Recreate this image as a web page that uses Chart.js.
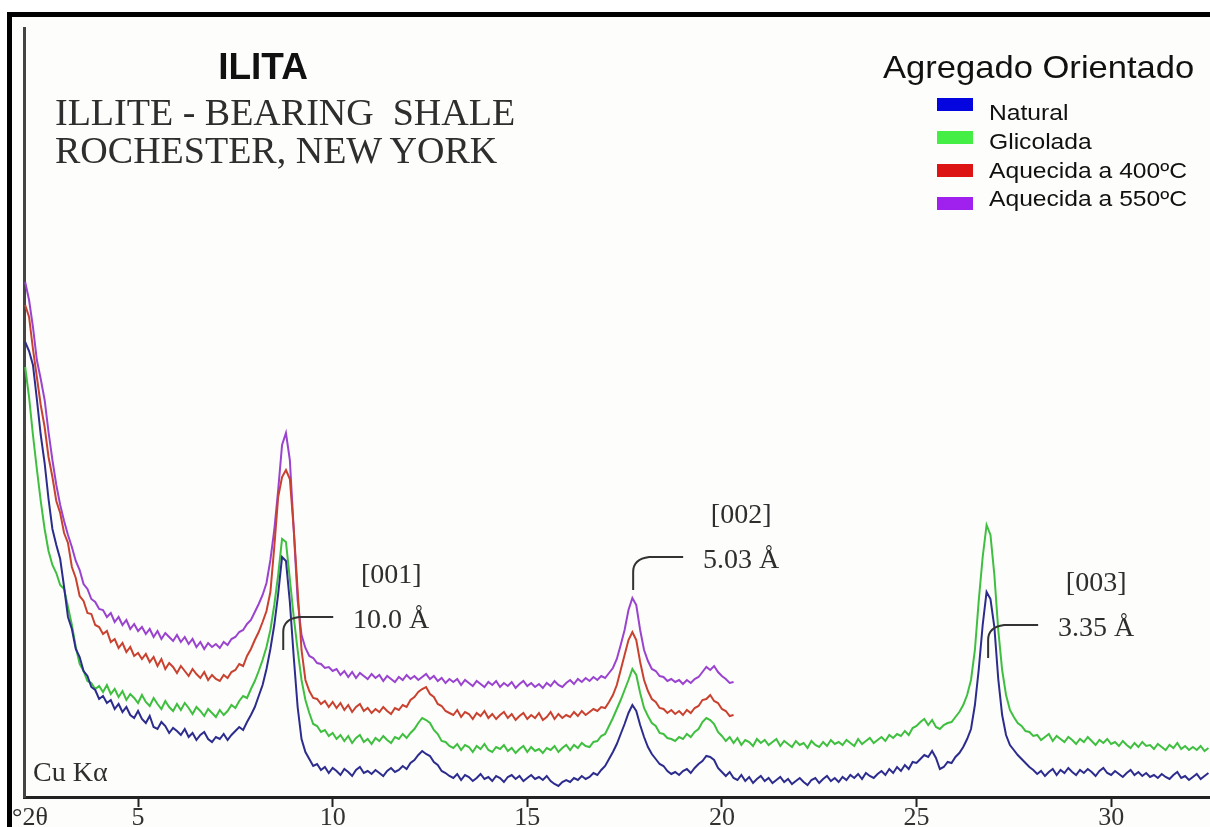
<!DOCTYPE html>
<html>
<head>
<meta charset="utf-8">
<title>ILITA - difratograma</title>
<script src="https://cdn.jsdelivr.net/npm/chart.js@4.4.1/dist/chart.umd.min.js"></script>
<style>
    html, body { margin: 0; padding: 0; background: #fff; }
    #sheet { position: relative; width: 1210px; height: 827px; overflow: hidden; }
    #frame {
        position: absolute; left: 7px; top: 12px; right: 0; bottom: 0;
        border-left: 5px solid #000; border-top: 5px solid #000;
        background: #fdfdfb;
    }
    #xrd { position: absolute; left: 0; top: 0; }
    .txt { position: absolute; white-space: nowrap; line-height: 1; }
    .serif { font-family: "Liberation Serif", "Times New Roman", serif; color: #2e2e2e; }
    .sans { font-family: "Liberation Sans", Arial, sans-serif; color: #111; }
    .swatch { position: absolute; left: 937px; width: 36px; height: 13px; }
</style>
</head>
<body>
<div id="sheet">
    <div id="frame"></div>
    <canvas id="xrd" width="1210" height="827"></canvas>

    <div class="txt sans" style="left:263px; top:48px; font-size:37px; font-weight:bold; transform:translateX(-50%);">ILITA</div>
    <div class="txt serif" style="left:55px; top:93px; font-size:38px;">ILLITE - BEARING&nbsp; SHALE</div>
    <div class="txt serif" style="left:55px; top:131px; font-size:38px;">ROCHESTER, NEW YORK</div>
    <div class="txt serif" style="left:33px; top:758px; font-size:28px;">Cu Kα</div>
    <div class="txt serif" style="left:12px; top:804px; font-size:26px;">°2θ</div>

    <div class="txt sans" style="left:883px; top:51px; font-size:32px; transform:scaleX(1.08); transform-origin:left;">Agregado Orientado</div>
    <div id="legend"></div>
</div>

<script>
// scan grid (°2θ)
const thetaStart = 2.1;
const thetaStep = 0.1;

// intensities, one row per degree (2.1–3.0, 3.1–4.0, ...)
const natural = [
    455, 446, 432, 398, 362, 334, 298, 268, 252, 238,
    210, 180, 168, 148, 140, 126, 121, 110, 107, 98,
    101, 94, 97, 88, 93, 85, 90, 82, 79, 86,
    78, 74, 81, 70, 68, 75, 71, 64, 69, 66,
    62, 68, 60, 64, 57, 62, 65, 58, 55, 60,
    58, 63, 57, 62, 66, 70, 67, 75, 82, 90,
    101, 112, 128, 148, 172, 203, 240, 236, 195, 140,
    90, 58, 45, 38, 31, 33, 27, 30, 24, 29,
    26, 22, 28, 25, 21, 27, 30, 24, 26, 23,
    27, 24, 21, 26, 29, 25, 27, 31, 28, 34,
    37, 42, 46, 43, 41, 35, 32, 26, 24, 21,
    19, 23, 17, 22, 20, 16, 19, 23, 18, 20,
    16, 21, 19, 15, 20, 22, 18, 21, 16, 19,
    22, 18, 20, 17, 21, 16, 13, 11, 15, 17,
    15, 19, 17, 21, 18, 20, 24, 22, 27, 31,
    38, 45, 53, 63, 73, 84, 92, 86, 72, 60,
    50, 43, 38, 33, 31, 26, 23, 25, 22, 26,
    28, 24, 29, 33, 36, 41, 40, 37, 29, 25,
    21, 25, 19, 17, 22, 16, 20, 14, 18, 21,
    16, 19, 14, 17, 20, 15, 18, 13, 16, 19,
    15, 12, 17, 19, 14, 18, 21, 16, 19, 15,
    20, 17, 22, 19, 23, 18, 24, 21, 19, 23,
    26, 22, 28, 24, 30, 26, 32, 28, 35, 34,
    38, 42, 40, 46, 39, 28, 30, 35, 34, 40,
    44, 50, 58, 68, 92, 128, 172, 205, 198, 170,
    118, 82, 62, 52, 47, 42, 38, 34, 30, 27,
    23, 26, 21, 25, 28, 22, 27, 24, 29, 25,
    22, 27, 24, 28, 25, 21, 26, 29, 24, 22,
    26, 23, 20, 24, 27, 22, 25, 21, 24, 20,
    22, 19, 23, 20, 18, 22, 25, 19, 21, 17,
    20, 23, 18, 21, 24
];

const glicolada = [
    430, 400, 362, 328, 296, 268, 246, 232, 224, 212,
    208, 190, 172, 150, 133, 126, 116, 114, 108, 111,
    105, 112, 103, 108, 100, 106, 97, 103, 99, 94,
    102, 95, 91, 99, 93, 88, 96, 90, 86, 93,
    87, 94, 89, 83, 90, 86, 81, 88, 84, 80,
    87, 82, 86, 92, 89, 96, 101, 99, 108, 116,
    126, 137, 150, 167, 192, 222, 258, 255, 218, 180,
    147, 117, 97, 84, 73, 71, 65, 67, 61, 64,
    58, 62, 56, 61, 54, 59, 62, 55, 58, 53,
    59, 56, 61, 57, 54, 60, 58, 63, 59, 64,
    68, 74, 79, 77, 74, 67, 63, 56, 55, 51,
    49, 53, 47, 52, 50, 45, 51, 48, 53, 47,
    45, 50, 48, 52, 46, 49, 44, 48, 51, 45,
    50, 46, 48, 44, 49, 47, 51, 45, 49, 52,
    47, 52, 49, 54, 51, 50, 55, 56, 61, 63,
    71, 79, 88, 97, 107, 117, 128, 122, 104, 89,
    81, 74, 71, 64, 63, 59, 58, 56, 60, 58,
    63, 60, 65, 68, 75, 79, 77, 73, 65, 61,
    56, 60, 54, 59, 52, 57, 55, 51, 58, 54,
    57, 52, 55, 58, 51, 56, 53, 50, 56, 52,
    54, 49, 56, 52, 50, 55, 51, 57, 53, 55,
    52, 57, 54, 51, 58, 53, 56, 59, 54, 57,
    60, 56, 62, 59, 63, 61, 66, 62, 69, 71,
    75, 78, 72, 77, 70, 68, 72, 74, 75, 80,
    85, 92, 102, 117, 147, 197, 240, 272, 262, 222,
    167, 127, 102, 87, 80, 74, 71, 66, 65, 61,
    62, 57, 60, 63, 56, 61, 58, 55, 60, 57,
    53, 58, 55, 60, 56, 52, 57, 54, 58, 53,
    55, 51, 56, 52, 49, 54, 50, 55, 51, 52,
    48, 53, 50, 47, 52, 49, 54, 48, 51, 47,
    50, 47, 51, 46, 49
];

// heated runs stop at 20.3°
const aquecida400 = [
    492, 480, 448, 420, 392, 370, 340, 320, 296, 284,
    264, 254, 230, 219, 201, 196, 184, 183, 172, 170,
    163, 166, 155, 158, 149, 154, 145, 150, 141, 144,
    138, 143, 135, 140, 131, 138, 128, 134, 130, 124,
    131, 126, 121, 128, 123, 119, 125, 117, 122, 118,
    116, 122, 119, 125, 127, 133, 131, 141, 148, 157,
    165, 175, 186, 205, 250, 300, 320, 327, 318, 268,
    207, 147, 117, 106, 99, 98, 93, 96, 90, 95,
    89, 94, 87, 92, 85, 90, 93, 86, 89, 84,
    88, 85, 90, 86, 83, 89, 87, 92, 90, 97,
    100, 105, 108, 110, 103, 100, 93, 91, 86, 84,
    82, 87, 80, 85, 83, 78, 84, 81, 86, 79,
    83, 78, 82, 85, 79, 83, 77, 81, 84, 78,
    82, 79, 84, 77, 80, 85, 78, 83, 79, 82,
    80, 85, 81, 86, 82, 85, 88, 86, 90, 89,
    95, 102, 112, 127, 142, 157, 165, 157, 135, 117,
    106, 98, 95, 89, 88, 84, 87, 83, 86, 82,
    87, 84, 89, 91, 97, 98, 102, 96, 94, 88,
    86, 81, 82
];

const aquecida550 = [
    515, 497, 470, 437, 418, 397, 365, 337, 312, 292,
    276, 262, 250, 236, 227, 213, 208, 198, 195, 188,
    187, 180, 184, 175, 180, 172, 177, 168, 173, 166,
    170, 163, 168, 160, 166, 158, 164, 160, 156, 162,
    155, 160, 153, 158, 150, 155, 148, 154, 150, 153,
    149, 155, 152, 158, 160, 165, 167, 173, 177, 185,
    193, 202, 214, 237, 267, 307, 352, 364, 337, 267,
    197, 162, 149, 141, 139, 134, 133, 129, 130, 126,
    128, 122, 126, 120, 125, 119, 124, 121, 118, 123,
    119, 122, 116, 121, 118, 115, 120, 117, 122, 118,
    121, 117, 120, 123, 118, 121, 116, 119, 114, 118,
    115, 118, 112, 117, 114, 111, 116, 113, 110, 115,
    112, 116, 110, 114, 111, 115, 109, 113, 116, 111,
    114, 110, 113, 109, 114, 111, 116, 112, 110, 114,
    117, 113, 118, 115, 119, 116, 120, 117, 121, 119,
    124, 129, 138, 152, 167, 187, 199, 192, 167, 147,
    136, 128, 126, 121, 120, 116, 118, 115, 117, 113,
    117, 114, 118, 120, 125, 130, 127, 131, 125, 121,
    118, 114, 115
];

const seriesNames = ["Natural", "Glicolada", "Aquecida a 400ºC", "Aquecida a 550ºC"];
const xTickValues = [5, 10, 15, 20, 25, 30];

// basal reflections of illite
const peakHkl = ["[001]", "[002]", "[003]"];
const peakSpacing = ["10.0 Å", "5.03 Å", "3.35 Å"];
const peakTheta = [8.73, 17.72, 26.84];
const leaderFoot = [147, 207, 139];

const lineColors = ["#2c2c8e", "#3fbf3f", "#c9412f", "#9a43cf"];
const swatchColors = ["#0505e0", "#44ee44", "#dd1414", "#a020ee"];

function toPoints(values) {
    return values.map((v, i) => ({ x: +(thetaStart + i * thetaStep).toFixed(2), y: v }));
}

// legend block
const legend = document.getElementById("legend");
const swatchTops = [98, 131, 164, 197];
const labelTops = [102, 131, 160, 188];
seriesNames.forEach((name, i) => {
    const sw = document.createElement("div");
    sw.className = "swatch";
    sw.style.top = swatchTops[i] + "px";
    sw.style.background = swatchColors[i];
    legend.appendChild(sw);

    const lb = document.createElement("div");
    lb.className = "txt sans";
    lb.style.cssText = "left:989px; font-size:22px; transform:scaleX(1.12); transform-origin:left;";
    lb.style.top = labelTops[i] + "px";
    lb.textContent = name;
    legend.appendChild(lb);
});

// leader lines and labels for the basal peaks
const peakLabels = {
    id: "peakLabels",
    afterDatasetsDraw(chart) {
        const { ctx, scales: { x, y } } = chart;
        ctx.save();
        ctx.strokeStyle = "#333";
        ctx.fillStyle = "#2e2e2e";
        ctx.lineWidth = 2;
        ctx.font = '28px "Liberation Serif", "Times New Roman", serif';
        ctx.textAlign = "center";
        peakHkl.forEach((hkl, i) => {
            const px = x.getPixelForValue(peakTheta[i]);
            const py = y.getPixelForValue(leaderFoot[i]);
            ctx.beginPath();
            ctx.moveTo(px, py);
            ctx.lineTo(px, py - 18);
            ctx.quadraticCurveTo(px, py - 31, px + 16, py - 33);
            ctx.lineTo(px + 50, py - 33);
            ctx.stroke();
            ctx.fillText(hkl, px + 108, py - 67);
            ctx.fillText(peakSpacing[i], px + 108, py - 22);
        });
        ctx.restore();
    }
};

const seriesValues = [natural, glicolada, aquecida400, aquecida550];

new Chart(document.getElementById("xrd"), {
    type: "line",
    data: {
        datasets: seriesValues.map((vals, i) => ({
            label: seriesNames[i],
            data: toPoints(vals),
            borderColor: lineColors[i],
            borderWidth: 2,
            pointRadius: 0,
            tension: 0,
            fill: false
        }))
    },
    options: {
        responsive: false,
        animation: false,
        layout: { padding: { left: 24, top: 28, right: 0, bottom: 0 } },
        plugins: {
            legend: { display: false },
            tooltip: { enabled: false }
        },
        scales: {
            x: {
                type: "linear",
                min: 2.07,
                max: 32.54,
                afterBuildTicks: (scale) => {
                    scale.ticks = xTickValues.map((v) => ({ value: v }));
                },
                afterFit: (scale) => {
                    scale.height = 30;
                },
                grid: {
                    drawOnChartArea: false,
                    drawTicks: true,
                    tickLength: 10,
                    tickWidth: 2,
                    tickColor: "#222"
                },
                border: { display: true, color: "#222", width: 3 },
                ticks: {
                    color: "#333",
                    padding: -4,
                    maxRotation: 0,
                    font: { family: '"Liberation Serif", "Times New Roman", serif', size: 26 }
                }
            },
            y: {
                min: 0,
                max: 769,
                ticks: { display: false },
                grid: { display: false, drawTicks: false },
                border: { display: true, color: "#444", width: 3 }
            }
        }
    },
    plugins: [peakLabels]
});
</script>
</body>
</html>
